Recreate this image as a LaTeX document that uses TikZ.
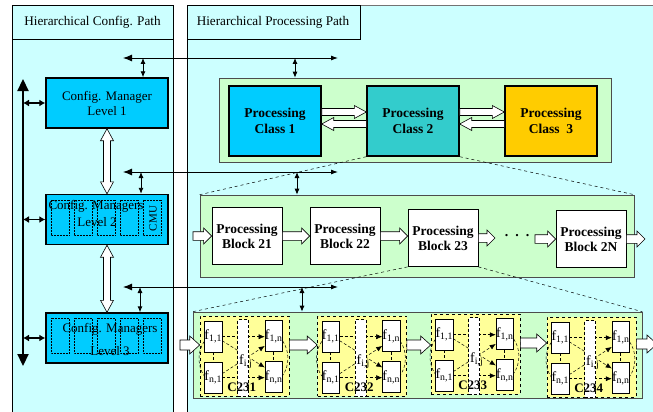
\documentclass[tikz,border=0pt]{standalone}
\usepackage{fontspec}
\setmainfont{Liberation Serif}
\usetikzlibrary{calc,arrows.meta}

\definecolor{pathbg}{HTML}{CCFFFF}
\definecolor{mgrblue}{HTML}{00CCFF}
\definecolor{classteal}{HTML}{33CCCC}
\definecolor{classgold}{HTML}{FFCC00}
\definecolor{groupgreen}{HTML}{CCFFCC}
\definecolor{cellyellow}{HTML}{FFFF99}

% hollow block arrow: half shaft, half head, head length, tail, tip
\newcommand\hollowarrow[5]{%
  \draw[fill=white, line width=.6pt, line join=miter]
    ($#4!#1!90:#5$) -- ($#5!#3!#4!#1!90:#5$) -- ($#5!#3!#4!#2!90:#5$) -- #5
    -- ($#5!#3!#4!#2!-90:#5$) -- ($#5!#3!#4!#1!-90:#5$) -- ($#4!#1!-90:#5$) -- cycle;}
% same, with a head at both ends
\newcommand\hollowboth[5]{%
  \draw[fill=white, line width=.6pt, line join=miter]
    #4 -- ($#4!#3!#5!#2!90:#5$) -- ($#4!#3!#5!#1!90:#5$) -- ($#5!#3!#4!#1!90:#5$)
    -- ($#5!#3!#4!#2!90:#5$) -- #5 -- ($#5!#3!#4!#2!-90:#5$) -- ($#5!#3!#4!#1!-90:#5$)
    -- ($#4!#3!#5!#1!-90:#5$) -- ($#4!#3!#5!#2!-90:#5$) -- cycle;}

\begin{document}
\begin{tikzpicture}[x=1pt, y=-1pt, font=\fontsize{13.2}{15}\selectfont,
    mgr/.style={draw, line width=1.4pt, fill=mgrblue, minimum width=122pt, minimum height=50pt,
      align=center, font=\fontsize{13}{15}\selectfont},
    group/.style={draw=black!70, line width=.6pt, fill=groupgreen, inner sep=0pt},
    pclass/.style={draw, line width=1.4pt, minimum width=92pt, minimum height=70pt, align=center,
      font=\fontsize{13.5}{16}\selectfont\bfseries},
    pblock/.style={draw, line width=.8pt, fill=white, minimum width=70pt, minimum height=57pt,
      align=center, font=\fontsize{13.5}{15}\selectfont\bfseries},
    cell/.style={draw, dashed, line width=.6pt, fill=cellyellow, minimum width=89pt, minimum height=80pt},
    fbox/.style={draw, line width=.5pt, fill=white, minimum width=17pt, minimum height=31pt,
      inner sep=0pt, font=\fontsize{14}{15}\selectfont},
    flow/.style={densely dashed, line width=.5pt, -{Latex[length=6pt,width=5pt]}},
    link/.style={<->, >={Latex[length=6pt,width=5pt]}, line width=.9pt},
    zoomline/.style={dashed, line width=.5pt}]
  \useasboundingbox (0,0) rectangle (653,412);

  % the two paths
  \fill[pathbg] (12,5) rectangle (173,412);
  \draw[line width=.6pt] (12,412) -- (12,5) -- (173,5) -- (173,412);
  \draw[line width=.6pt] (12,39) -- (173,39);
  \node (hcfg) at (92.5,22) {Hierarchical Config. Path};
  \fill[pathbg] (187,5) rectangle (653,412);
  \draw[black!55, line width=.8pt] (187,5) -- (653,5);
  \draw[line width=.6pt] (187,412) -- (187,5) -- (360,5) -- (360,39) -- (187,39);
  \node (hproc) at (273,22) {Hierarchical Processing Path};

  % configuration managers
  \node[mgr] (cm1) at (107,103) {Config. Manager\\Level 1};
  \node[mgr] (cm2) at (107,219.5) {};
  \node[mgr] (cm3) at (107,338) {};
  \foreach \m in {cm2,cm3}
    \foreach \i in {0,...,4}
      \draw[densely dotted, line width=.5pt] ($(\m.north west)+(6+23*\i,6)$) rectangle +(18,35);
  \node[font=\fontsize{13}{15}\selectfont] (cm2t) at (96,206) {Config. Managers};
  \node[font=\fontsize{13}{15}\selectfont] (cm2l) at (97,222) {Level 2};
  \node[rotate=90, font=\fontsize{11}{12}\selectfont] (cmu) at (153,218.5) {CMU};
  \node[font=\fontsize{13}{15}\selectfont] (cm3t) at (110,329) {Config. Managers};
  \node[font=\fontsize{13}{15}\selectfont] (cm3l) at (110,351) {Level 3};

  \coordinate (bustop) at (23,79);
  \coordinate (busbot) at (23,366);
  \draw[line width=2.2pt, {Triangle[length=12pt,width=11pt]}-{Triangle[length=12pt,width=11pt]}] (bustop) -- (busbot);
  \foreach \m in {cm1,cm2,cm3}
    \draw[line width=1.6pt, <->, >={Latex[length=6pt,width=7pt]}] (bustop |- \m.west) -- (\m.west);
  \hollowboth{3.5pt}{6.5pt}{12pt}{(cm1.south)}{(cm2.north)}
  \hollowboth{3.5pt}{6.5pt}{12pt}{(cm2.south)}{(cm3.north)}

  % processing groups
  \node[group, minimum width=392pt, minimum height=84pt] (grpclass) at (415,120) {};
  \node[group, minimum width=434pt, minimum height=82pt] (grpblock) at (417,236) {};
  \node[group, minimum width=449pt, minimum height=86pt] (grpcell) at (417.5,355) {};

  % control buses
  \foreach \n/\y in {1/58, 2/172, 3/287} {
    \coordinate (bl\n) at (123,\y);
    \coordinate (br\n) at (338,\y);
    \draw[line width=.9pt, {Latex[length=9pt,width=7pt]}-{Latex[length=7pt,width=5pt]}] (bl\n) -- (br\n);
  }
  \foreach \n/\a/\b/\m/\g in {1/143/295/cm1/grpclass, 2/141/297/cm2/grpblock, 3/140/302/cm3/grpcell} {
    \coordinate (dm\n) at (\a,0);
    \coordinate (dg\n) at (\b,0);
    \draw[link] (dm\n |- bl\n) -- (dm\n |- \m.north);
    \draw[link] (dg\n |- bl\n) -- (dg\n |- \g.north);
  }

  % classes
  \node[pclass, fill=mgrblue] (cls1) at (275,121) {Processing\\Class 1};
  \node[pclass, fill=classteal] (cls2) at (413,121) {Processing\\Class 2};
  \node[pclass, fill=classgold] (cls3) at (551,121) {Processing\\Class\enspace 3};
  \foreach \a/\b in {1/2, 2/3} {
    \coordinate (fw\a) at ([yshift=9pt]cls\a.east);
    \coordinate (fwt\a) at ([yshift=9pt]cls\b.west);
    \coordinate (bw\a) at ([yshift=-3pt]cls\b.west);
    \coordinate (bwt\a) at ([yshift=-3pt]cls\a.east);
    \hollowarrow{3.5pt}{6.5pt}{12pt}{(fw\a)}{(fwt\a)}
    \hollowarrow{3.5pt}{6.5pt}{12pt}{(bw\a)}{(bwt\a)}
  }
  \draw[zoomline] (cls2.south west) -- (grpblock.north west);
  \draw[zoomline] (cls2.south east) -- (grpblock.north east);

  % blocks
  \node[pblock] (blk21) at (247,236) {Processing\\Block 21};
  \node[pblock] (blk22) at (345,236) {Processing\\Block 22};
  \node[pblock] (blk23) at (443,238) {Processing\\Block 23};
  \node[pblock] (blk2N) at (591,239) {Processing\\Block 2N};
  \node[font=\fontsize{14}{15}\selectfont\bfseries] (dots) at (517,236) {.\ \ .\ \ .};
  \coordinate (in2) at (193,236);
  \coordinate (o23) at (495,238);
  \coordinate (i2N) at (535,239);
  \coordinate (out2) at (645,239);
  \hollowarrow{4.3pt}{8pt}{8pt}{(in2)}{(in2 -| blk21.west)}
  \hollowarrow{4.3pt}{8pt}{8pt}{(blk21.east)}{(blk21.east -| blk22.west)}
  \hollowarrow{4.3pt}{8pt}{8pt}{(blk22.east)}{(blk22.east -| blk23.west)}
  \hollowarrow{4.3pt}{8pt}{8pt}{(blk23.east)}{(o23)}
  \hollowarrow{4.3pt}{8pt}{8pt}{(i2N)}{(blk2N.west)}
  \hollowarrow{4.3pt}{8pt}{8pt}{(blk2N.east)}{(out2)}
  \draw[zoomline] (blk23.south west) -- (grpcell.north west);
  \draw[zoomline] (blk23.south east) -- (grpcell.north east);

  % function cells
  \foreach \n/\x/\y in {231/244.5/356, 232/362/356, 233/475.5/354, 234/591.5/357} {
    \node[cell] (c\n) at (\x,\y) {};
    \node[fbox] (fa\n) at ($(c\n.north west)+(13.5,21)$) {f\textsubscript{1,1}};
    \node[fbox] (fb\n) at ($(c\n.north west)+(13.5,62)$) {f\textsubscript{n,1}};
    \node[fbox] (fc\n) at ($(c\n.north west)+(74,20.5)$) {f\textsubscript{1,n}};
    \node[fbox] (fd\n) at ($(c\n.north west)+(74,61.5)$) {f\textsubscript{n,n}};
    \draw[densely dashed, line width=.5pt] (fa\n) -- (fb\n);
    \draw[densely dashed, line width=.5pt] (fc\n) -- (fd\n);
    \draw[densely dashed, line width=.5pt] ($(fa\n.south west)+(0,-11)$) .. controls +(-7,10) and +(-7,-10) .. ($(fb\n.north west)+(0,14)$);
    \draw[densely dashed, line width=.5pt] ($(fc\n.south east)+(0,-11)$) .. controls +(7,10) and +(7,-10) .. ($(fd\n.north east)+(0,14)$);
    \draw[flow] (fa\n.east) -- (fa\n.east -| fc\n.west);
    \draw[flow] (fb\n.east) -- (fb\n.east -| fd\n.west);
    \draw[flow] ([yshift=-4pt]fa\n.east) -- ([yshift=-6pt]fd\n.north west);
    \draw[flow] ([yshift=4pt]fb\n.east) -- ([yshift=6pt]fc\n.south west);
    \node[draw, densely dashed, line width=.5pt, fill=white, minimum width=11pt, minimum height=77pt,
      inner sep=0pt] (fm\n) at ($(c\n.north west)+(43.5,42.5)$) {};
    \node[font=\fontsize{14}{15}\selectfont, inner sep=0pt] (fij\n) at ($(c\n.north west)+(46,46)$) {f\textsubscript{i,j}};
    \node[font=\fontsize{13}{14}\selectfont\bfseries, inner sep=0pt] (lbl\n) at ($(c\n.north west)+(42,72)$) {C\n};
  }
  \coordinate (in3) at (180,345);
  \hollowarrow{5pt}{9pt}{10pt}{(in3)}{(in3 -| c231.west)}
  \foreach \a/\b in {231/232, 232/233, 233/234} {
    \coordinate (s\a) at ([yshift=11pt]c\a.east);
    \hollowarrow{5pt}{9pt}{10pt}{(s\a)}{(s\a -| c\b.west)}
  }
  \coordinate (s234) at ([yshift=13pt]c234.east);
  \coordinate (out3) at (657,0);
  \hollowarrow{5pt}{9pt}{10pt}{(s234)}{(out3 |- s234)}
\end{tikzpicture}
\end{document}
